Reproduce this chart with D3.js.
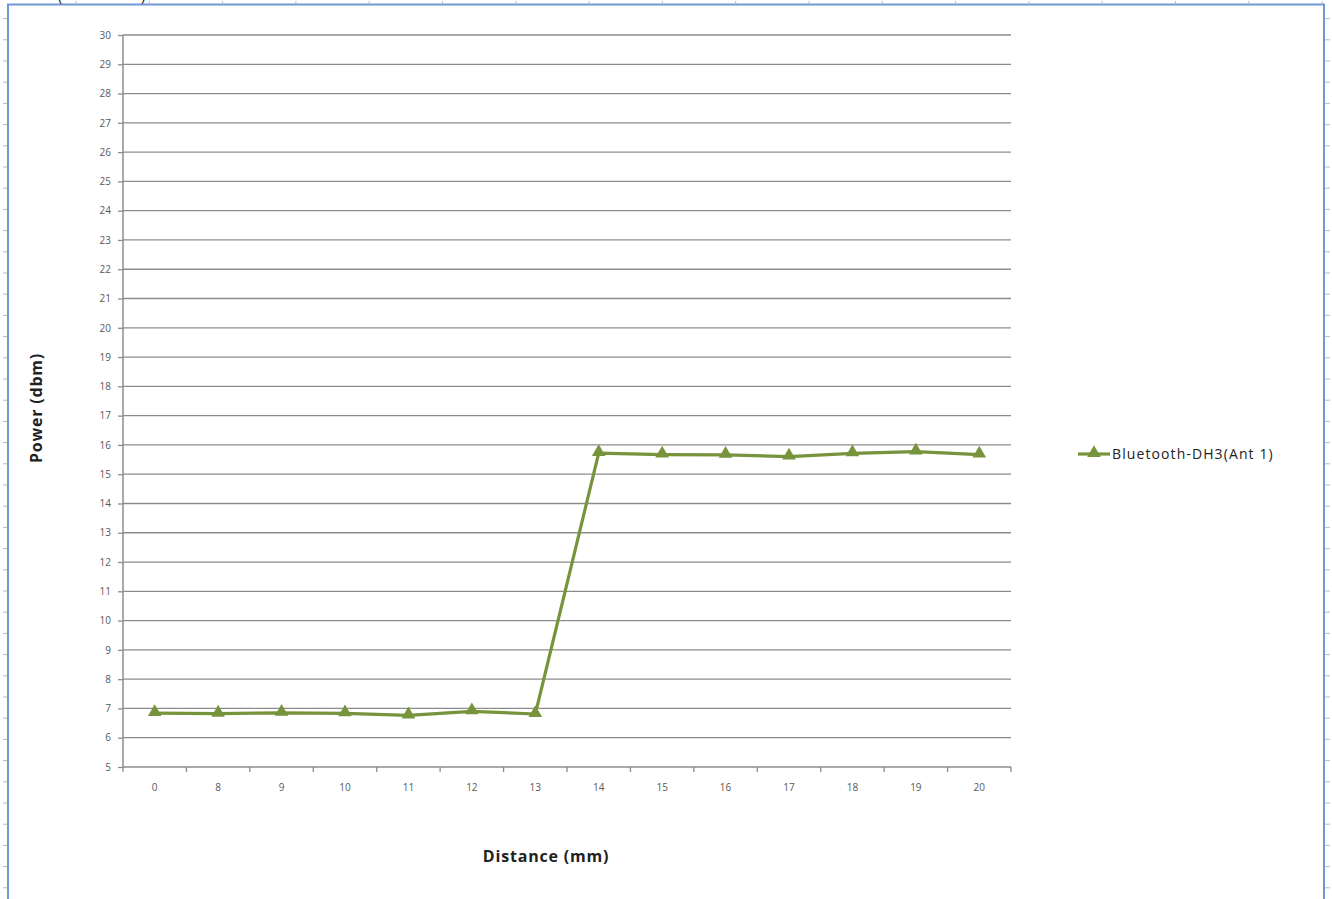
<!DOCTYPE html>
<html>
<head>
<meta charset="utf-8">
<script src="https://cdn.jsdelivr.net/npm/d3@7"></script>
<style>
  body { margin: 0; background: #fff; }
  text { font-family: "Open Sans", "Noto Sans", sans-serif; }
</style>
</head>
<body>
<svg id="chart"></svg>
<script>
// Data
const distances = ["0", "8", "9", "10", "11", "12", "13", "14", "15", "16", "17", "18", "19", "20"];
const power = [6.84, 6.82, 6.85, 6.83, 6.76, 6.9, 6.81, 15.72, 15.67, 15.66, 15.6, 15.71, 15.77, 15.67];
const yTicks = d3.range(5, 31);
const seriesName = "Bluetooth-DH3(Ant 1)";

const W = 1332, H = 899;
const margin = { top: 35, left: 123, right: 321, bottom: 132 };
const width = W - margin.left - margin.right;
const height = H - margin.top - margin.bottom;

const svg = d3.select("#chart").attr("width", W).attr("height", H);

// Page frame with ruler marks
const frame = svg.append("g");
frame.append("rect")
  .attr("x", 8).attr("y", 4.5)
  .attr("width", 1316).attr("height", 910)
  .attr("fill", "none").attr("stroke", "#6f98d6").attr("stroke-width", 2);
d3.range(18.6, H, 21.2).forEach(y => {
  frame.append("line").attr("x1", 3).attr("x2", 7).attr("y1", y).attr("y2", y).attr("stroke", "#bbb");
  frame.append("line").attr("x1", 1325).attr("x2", 1330).attr("y1", y).attr("y2", y).attr("stroke", "#bbb");
});
d3.range(76, W, 73.3).forEach(x => {
  frame.append("line").attr("x1", x).attr("x2", x).attr("y1", 1).attr("y2", 4).attr("stroke", "#bbb");
});
// clipped title from the page above
svg.append("text").attr("x", 58).attr("y", 1).attr("font-size", 14).attr("fill", "#222").text("(");
svg.append("text").attr("x", 141).attr("y", 1).attr("font-size", 14).attr("fill", "#222").text(")");

const g = svg.append("g").attr("transform", `translate(${margin.left},${margin.top})`);

const x = d3.scaleBand().domain(distances).range([0, width]);
const y = d3.scaleLinear().domain([5, 30]).range([height, 0]);

// Gridlines
g.append("g")
  .selectAll("line")
  .data(yTicks.slice(1))
  .join("line")
  .attr("x1", 0).attr("x2", width)
  .attr("y1", d => y(d)).attr("y2", d => y(d))
  .attr("stroke", "#8c8c8c").attr("stroke-width", 1.3);

// Y axis
const yAxis = g.append("g")
  .call(d3.axisLeft(y).tickValues(yTicks).tickSize(5).tickPadding(7));
yAxis.select(".domain").attr("stroke", "#8c8c8c").attr("stroke-width", 1.5).attr("d", `M0,${height}V0`);
yAxis.selectAll(".tick line").attr("stroke", "#8c8c8c").attr("stroke-width", 1.3);
yAxis.selectAll("text").attr("font-size", 10).attr("fill", "#595959");

// X axis (ticks between categories)
const xAxis = g.append("g").attr("transform", `translate(0,${height})`)
  .call(d3.axisBottom(x).tickSize(0).tickPadding(17));
xAxis.select(".domain").attr("stroke", "#8c8c8c").attr("stroke-width", 1.5).attr("d", `M0,0H${width}`);
xAxis.selectAll("text").attr("font-size", 10).attr("fill", "#595959");
xAxis.selectAll(".sep")
  .data(d3.range(distances.length + 1))
  .join("line")
  .attr("class", "sep")
  .attr("x1", i => i * x.step()).attr("x2", i => i * x.step())
  .attr("y1", 0).attr("y2", 5)
  .attr("stroke", "#8c8c8c").attr("stroke-width", 1.3);

// Series line
const color = "#77933c";
const cx = (d, i) => x(distances[i]) + x.bandwidth() / 2;
g.append("path")
  .datum(power)
  .attr("fill", "none")
  .attr("stroke", color)
  .attr("stroke-width", 3.2)
  .attr("stroke-linejoin", "round")
  .attr("d", d3.line().x(cx).y(d => y(d)));

const tri = d3.symbol().type(d3.symbolTriangle).size(80);
g.selectAll(".pt")
  .data(power)
  .join("path")
  .attr("class", "pt")
  .attr("transform", (d, i) => `translate(${cx(d, i)},${y(d) - 1})`)
  .attr("d", tri)
  .attr("fill", color);

// Axis titles
svg.append("text")
  .attr("transform", `translate(42,408) rotate(-90)`)
  .attr("text-anchor", "middle")
  .attr("font-size", 16).attr("font-weight", "bold").attr("fill", "#222")
  .attr("letter-spacing", 0.8)
  .text("Power (dbm)");
svg.append("text")
  .attr("x", 546).attr("y", 862)
  .attr("text-anchor", "middle")
  .attr("font-size", 16).attr("font-weight", "bold").attr("fill", "#222")
  .attr("letter-spacing", 0.8)
  .text("Distance (mm)");

// Legend
const lg = svg.append("g").attr("transform", "translate(1078,454)");
lg.append("line").attr("x1", 0).attr("x2", 32).attr("stroke", color).attr("stroke-width", 3.2);
lg.append("path").attr("d", tri).attr("transform", "translate(16,-1)").attr("fill", color);
lg.append("text").attr("x", 34).attr("y", 5).attr("font-size", 14).attr("fill", "#222")
  .attr("letter-spacing", 1.1)
  .text(seriesName);
</script>
</body>
</html>
